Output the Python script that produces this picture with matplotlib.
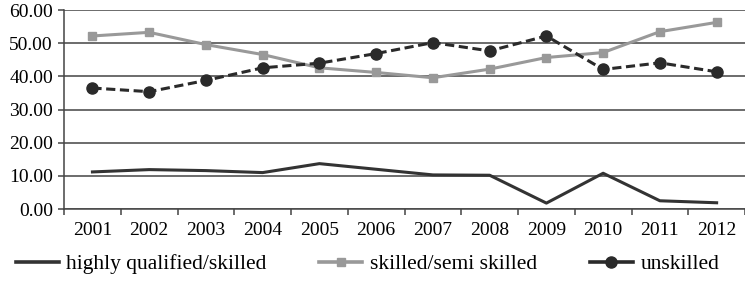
import matplotlib.pyplot as plt
from matplotlib.lines import Line2D
import numpy as np

plt.rcParams['font.family'] = ['Liberation Serif', 'DejaVu Serif']

# Datos
years = ['2001', '2002', '2003', '2004', '2005', '2006',
         '2007', '2008', '2009', '2010', '2011', '2012']
highly = [11.2, 11.9, 11.6, 11.0, 13.7, 12.0, 10.3, 10.2, 1.8, 10.8, 2.5, 1.9]
skilled = [52.2, 53.3, 49.6, 46.6, 42.6, 41.2, 39.6, 42.2, 45.7, 47.2, 53.5, 56.3]
unskilled = [36.5, 35.4, 38.8, 42.6, 44.0, 46.9, 50.2, 47.7, 52.2, 42.1, 44.1, 41.4]
labels = ['highly qualified/skilled', 'skilled/semi skilled', 'unskilled']

fig = plt.figure(figsize=(7.45, 2.81), dpi=100)
ax = fig.add_axes([0.086, 0.256, 0.914, 0.708])

x = np.arange(len(years))

ax.plot(x, highly, color='#333333', linewidth=2.2)
ax.plot(x, skilled, color='#999999', linewidth=2.2, marker='s', markersize=6)
ax.plot(x, unskilled, color='#2a2a2a', linewidth=2.2, linestyle=(0, (3, 1.5)),
        marker='o', markersize=8)

# Ejes y rejilla
ax.set_xlim(-0.5, len(years) - 0.5)
ax.set_ylim(0, 60)
ax.set_yticks(np.arange(0, 61, 10))
ax.set_yticklabels(['%.2f' % v for v in np.arange(0, 61, 10)], fontsize=14)
ax.yaxis.grid(True, color='#444444', linewidth=1.1)
ax.set_axisbelow(True)

ax.set_xticks(x)
ax.set_xticklabels(years, fontsize=14)
ax.set_xticks(np.arange(-0.5, len(years), 1), minor=True)
ax.tick_params(axis='x', which='major', length=0, pad=9)
ax.tick_params(axis='x', which='minor', length=4, width=1.1, color='#444444')
ax.tick_params(axis='y', length=4, width=1.1, color='#444444', pad=4)

for s in ['top', 'right']:
    ax.spines[s].set_visible(False)
ax.spines['left'].set_color('#444444')
ax.spines['bottom'].set_color('#444444')
ax.spines['left'].set_linewidth(1.1)
ax.spines['bottom'].set_linewidth(1.1)

# Leyenda con lineas continuas
handles = [
    Line2D([], [], color='#333333', linewidth=2.6),
    Line2D([], [], color='#999999', linewidth=2.6, marker='s', markersize=6),
    Line2D([], [], color='#2a2a2a', linewidth=2.6, marker='o', markersize=8),
]
fig.legend(handles, labels, loc='lower left', bbox_to_anchor=(-0.005, -0.045),
           ncol=3, frameon=False, fontsize=15.5, handlelength=2.0,
           handletextpad=0.35, columnspacing=2.45)

plt.savefig('out.png', dpi=100)
